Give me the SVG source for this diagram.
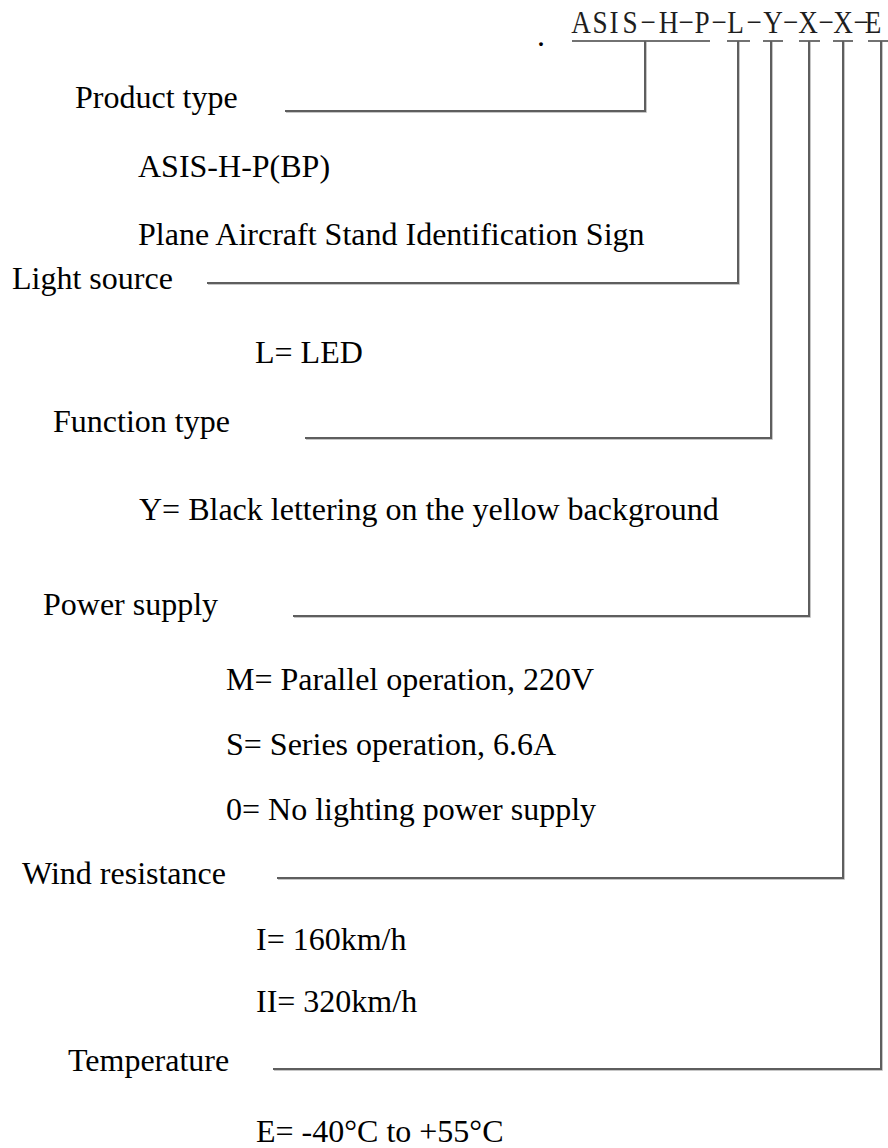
<svg xmlns="http://www.w3.org/2000/svg" width="888" height="1148" viewBox="0 0 888 1148">
  <style>
    .t { font-family: "Liberation Serif", "Times New Roman", serif; font-size: 32px; fill: #000; }
    .code { font-family: "Liberation Serif", "Times New Roman", serif; font-size: 32px; fill: #1e1e1e; text-anchor: middle; }
    .conn { fill: none; stroke: #5e5e5e; stroke-width: 2; }
    .shadow { fill: none; stroke: #b4b4b4; stroke-width: 1.5; }
    .ul { fill: none; stroke: #444; stroke-width: 1.5; }
  </style>
  <rect width="888" height="1148" fill="#fff"/>

  <g id="code">
    <text class="t" x="537" y="46" font-size="20">.</text>
    <g transform="scale(0.85,1)">
      <text class="code" y="33" x="683.5 705.9 722.4 741.2 762.4 786.5 807.1 825.9 845.9 865.3 887.1 909.4 930 950.6 971.8 991.8 1012.9 1027">ASIS−H−P−L−Y−X−X−E</text>
    </g>
    <path class="ul" d="M572,41 H710 M727,41 H750 M763,41 H783 M799,41 H820 M833,41 H853 M868,41 H888"/>
  </g>

  <g id="connectors">
    <g transform="translate(1,1)">
      <path class="shadow" d="M285,111 H645 V41"/>
      <path class="shadow" d="M207,283 H738 V41"/>
      <path class="shadow" d="M305,438 H771 V41"/>
      <path class="shadow" d="M293,616 H809 V41"/>
      <path class="shadow" d="M277,878 H843 V41"/>
      <path class="shadow" d="M273,1069 H881 V41"/>
    </g>
    <path class="conn" d="M285,111 H645 V41"/>
    <path class="conn" d="M207,283 H738 V41"/>
    <path class="conn" d="M305,438 H771 V41"/>
    <path class="conn" d="M293,616 H809 V41"/>
    <path class="conn" d="M277,878 H843 V41"/>
    <path class="conn" d="M273,1069 H881 V41"/>
  </g>

  <g id="product-type">
    <text class="t" x="75" y="108">Product type</text>
    <text class="t" x="138" y="177">ASIS-H-P(BP)</text>
    <text class="t" x="138" y="245">Plane Aircraft Stand Identification Sign</text>
  </g>

  <g id="light-source">
    <text class="t" x="12" y="289">Light source</text>
    <text class="t" x="255" y="363">L= LED</text>
  </g>

  <g id="function-type">
    <text class="t" x="53" y="432">Function type</text>
    <text class="t" x="139" y="520">Y= Black lettering on the yellow background</text>
  </g>

  <g id="power-supply">
    <text class="t" x="43" y="615">Power supply</text>
    <text class="t" x="226" y="690">M= Parallel operation, 220V</text>
    <text class="t" x="226" y="755">S= Series operation, 6.6A</text>
    <text class="t" x="226" y="820">0= No lighting power supply</text>
  </g>

  <g id="wind-resistance">
    <text class="t" x="22" y="884">Wind resistance</text>
    <text class="t" x="256" y="950">I= 160km/h</text>
    <text class="t" x="256" y="1012">II= 320km/h</text>
  </g>

  <g id="temperature">
    <text class="t" x="68" y="1071">Temperature</text>
    <text class="t" x="256" y="1142">E= -40°C to +55°C</text>
  </g>
</svg>
